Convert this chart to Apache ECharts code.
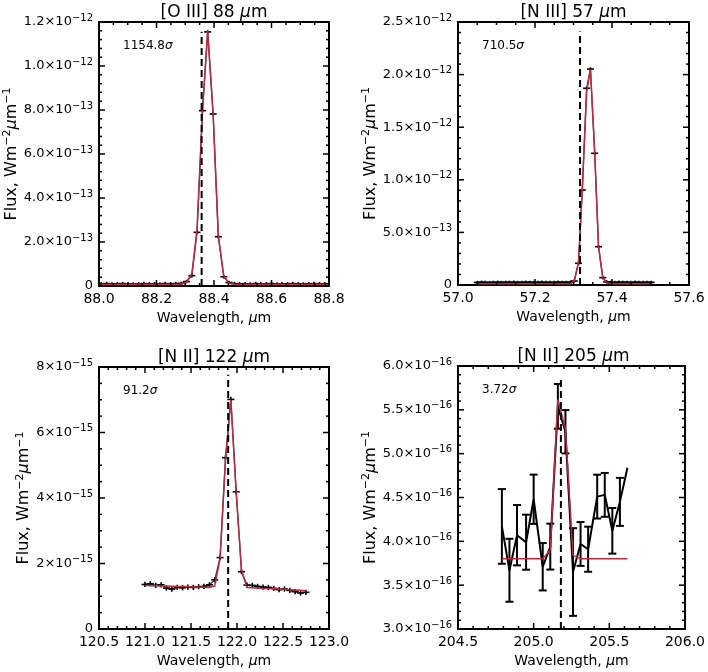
<!DOCTYPE html>
<html><head><meta charset="utf-8">
<script src="https://cdn.jsdelivr.net/npm/echarts@6/dist/echarts.min.js"></script>
<style>html,body{margin:0;padding:0;background:#fff}#c{width:708px;height:672px}</style>
</head><body><div id="c"></div>
<script>
const panelTitles = ['[O III] 88 ', '[N III] 57 ', '[N II] 122 ', '[N II] 205 '];
const sigmaLabels = ['1154.8', '710.5', '91.2', '3.72'];
// Panel 1: [O III] 88 um (flux in 1e-12 W m^-2 um^-1)
const wave1 = [88.008,88.027,88.045,88.064,88.082,88.101,88.119,88.138,88.156,88.175,88.193,88.212,88.230,88.249,88.267,88.286,88.304,88.323,88.341,88.360,88.378,88.397,88.415,88.434,88.452,88.471,88.489,88.508,88.526,88.545,88.563,88.582,88.600,88.619,88.637,88.656,88.674,88.693,88.711,88.730,88.748,88.767,88.785];
const flux1 = [0.010,0.011,0.009,0.010,0.011,0.010,0.009,0.010,0.011,0.010,0.010,0.009,0.011,0.010,0.011,0.012,0.020,0.047,0.244,0.797,1.155,0.782,0.224,0.042,0.016,0.011,0.010,0.010,0.009,0.011,0.010,0.010,0.011,0.009,0.010,0.010,0.011,0.010,0.009,0.010,0.011,0.010,0.010];
const fit1 = [0.008,0.008,0.008,0.008,0.008,0.008,0.008,0.008,0.008,0.008,0.008,0.008,0.008,0.008,0.008,0.008,0.018,0.055,0.260,0.800,1.160,0.780,0.230,0.045,0.014,0.008,0.008,0.008,0.008,0.008,0.008,0.008,0.008,0.008,0.008,0.008,0.008,0.008,0.008,0.008,0.008,0.008,0.008];
const err1 = 0.008;
const lineCenter1 = 88.357, lineTop1 = 1.156;
const xTicks1 = ['88.0','88.2','88.4','88.6','88.8'];
const yTicks1 = [['0',''],['2.0','\u221213'],['4.0','\u221213'],['6.0','\u221213'],['8.0','\u221213'],['1.0','\u221212'],['1.2','\u221212']];
// Panel 2: [N III] 57 um (flux in 1e-12)
const wave2 = [57.050,57.061,57.071,57.082,57.092,57.103,57.113,57.124,57.134,57.145,57.155,57.166,57.176,57.187,57.197,57.208,57.218,57.229,57.239,57.250,57.260,57.271,57.281,57.292,57.302,57.313,57.323,57.334,57.344,57.355,57.365,57.376,57.386,57.397,57.407,57.418,57.428,57.439,57.449,57.460,57.470,57.481,57.491,57.502];
const flux2 = [0.024,0.026,0.025,0.023,0.025,0.026,0.024,0.025,0.025,0.026,0.024,0.025,0.026,0.025,0.024,0.025,0.026,0.025,0.024,0.025,0.026,0.025,0.025,0.027,0.038,0.206,0.903,1.870,2.053,1.252,0.364,0.070,0.030,0.025,0.024,0.026,0.025,0.025,0.024,0.026,0.025,0.024,0.025,0.025];
const fit2 = [0.012,0.012,0.012,0.012,0.012,0.012,0.012,0.012,0.012,0.012,0.012,0.012,0.012,0.012,0.012,0.012,0.012,0.012,0.012,0.012,0.012,0.012,0.012,0.012,0.040,0.220,0.930,1.830,2.050,1.270,0.370,0.070,0.020,0.012,0.012,0.012,0.012,0.012,0.012,0.012,0.012,0.012,0.012,0.012];
const err2 = 0.016;
const lineCenter2 = 57.317, lineTop2 = 2.41;
const xTicks2 = ['57.0','57.2','57.4','57.6'];
const yTicks2 = [['0',''],['5.0','\u221213'],['1.0','\u221212'],['1.5','\u221212'],['2.0','\u221212'],['2.5','\u221212']];
// Panel 3: [N II] 122 um (flux in 1e-15)
const wave3 = [121.000,121.058,121.117,121.175,121.233,121.292,121.350,121.408,121.466,121.525,121.583,121.641,121.700,121.758,121.816,121.875,121.933,121.991,122.049,122.108,122.166,122.224,122.283,122.341,122.399,122.458,122.516,122.574,122.632,122.691,122.749];
const flux3 = [1.36,1.38,1.33,1.35,1.25,1.22,1.27,1.26,1.28,1.27,1.29,1.30,1.35,1.50,2.18,5.23,7.01,4.19,1.75,1.34,1.33,1.30,1.28,1.27,1.24,1.20,1.22,1.18,1.14,1.10,1.12];
const fit3 = [1.33,1.325,1.32,1.315,1.31,1.305,1.30,1.295,1.29,1.285,1.28,1.275,1.27,1.31,2.15,5.15,7.00,4.20,1.80,1.27,1.26,1.25,1.24,1.235,1.23,1.22,1.21,1.20,1.19,1.18,1.17];
const err3 = 0.08;
const lineCenter3 = 121.904, lineTop3 = 7.76;
const xTicks3 = ['120.5','121.0','121.5','122.0','122.5','123.0'];
const yTicks3 = [['0',''],['2','\u221215'],['4','\u221215'],['6','\u221215'],['8','\u221215']];
// Panel 4: [N II] 205 um (flux in 1e-16)
const wave4 = [204.79,204.84,204.89,204.95,205.00,205.06,205.11,205.16,205.21,205.26,205.31,205.36,205.42,205.47,205.52,205.57,205.62];
const flux4 = [4.17,3.67,4.07,3.99,4.48,3.71,3.94,5.54,5.25,3.65,3.97,3.91,4.51,4.53,4.12,4.45,4.84];
const errs4 = [0.426,0.359,0.344,0.314,0.281,0.27,0.262,0.255,0.247,0.50,0.25,0.257,0.25,0.25,0.26,0.274,0];
const fit4 = [3.80,3.80,3.80,3.80,3.80,3.80,3.90,5.62,5.28,3.84,3.80,3.80,3.80,3.80,3.80,3.80,3.80];
const lineCenter4 = 205.18, lineTop4 = 5.87;
const xTicks4 = ['204.5','205.0','205.5','206.0'];
const yTicks4 = [['3.0','\u221216'],['3.5','\u221216'],['4.0','\u221216'],['4.5','\u221216'],['5.0','\u221216'],['5.5','\u221216'],['6.0','\u221216']];

const FONT = 'DejaVu Sans';
const panels = [
  {grid:{left:99,top:22,width:230,height:264}, x:[88.0,88.8,0.2,4], y:[0,1.2,0.2,5], wave:wave1, flux:flux1, fit:fit1, err:wave1.map(()=>err1), lc:lineCenter1, lt:lineTop1, xt:xTicks1, yt:yTicks1, mode:'plus', dataColor:'#3a3a3a', dataW:1.3},
  {grid:{left:458,top:22,width:231,height:263}, x:[57.0,57.6,0.2,4], y:[0,2.5,0.5,5], wave:wave2, flux:flux2, fit:fit2, err:wave2.map(()=>err2), lc:lineCenter2, lt:lineTop2, xt:xTicks2, yt:yTicks2, mode:'plus', dataColor:'#3a3a3a', dataW:1.3},
  {grid:{left:99,top:367,width:230,height:262}, x:[120.5,123.0,0.5,5], y:[0,8,2,4], wave:wave3, flux:flux3, fit:fit3, err:wave3.map(()=>err3), lc:lineCenter3, lt:lineTop3, xt:xTicks3, yt:yTicks3, mode:'plus', dataColor:'#3a3a3a', dataW:1.3},
  {grid:{left:458,top:366,width:231,height:263}, x:[204.5,206.0,0.5,5], y:[3.0,6.0,0.5,5], wave:wave4, flux:flux4, fit:fit4, err:errs4, lc:lineCenter4, lt:lineTop4, xt:xTicks4, yt:yTicks4, mode:'I', dataColor:'#000', dataW:2}
];

const supRich = {
  m:{fontFamily:FONT,fontSize:13,color:'#000'},
  s:{fontFamily:FONT,fontSize:10,color:'#000',padding:[0,0,8,0]},
  nm:{fontFamily:FONT,fontSize:16,color:'#000'},
  ns:{fontFamily:FONT,fontSize:11,color:'#000',padding:[0,0,9,0]},
  ng:{fontFamily:FONT,fontSize:16,color:'#000',fontStyle:'italic'},
  xg:{fontFamily:FONT,fontSize:14,color:'#000',fontStyle:'italic'}
};

// tick positions along an axis: major at min + k*interval, minor subdivisions between
function tickList(a){
  const out=[]; const n=Math.round((a[1]-a[0])/a[2]);
  for(let k=0;k<=n;k++){
    out.push([a[0]+k*a[2], 1]);
    if(k<n) for(let m=1;m<a[3];m++) out.push([a[0]+k*a[2]+m*a[2]/a[3], 0.5]);
  }
  return out;
}

const grids=[], xAxes=[], yAxes=[], series=[], graphics=[];
panels.forEach((p,i)=>{
  grids.push(Object.assign({containLabel:false}, p.grid));
  const common = (a)=>({min:a[0], max:a[1], interval:a[2], splitLine:{show:false},
    axisLine:{show:true, onZero:false, lineStyle:{color:'#000', width:2}}, axisTick:{show:false}, minorTick:{show:false}, minorSplitLine:{show:false}});
  xAxes.push(Object.assign(common(p.x), {type:'value', gridIndex:i, position:'bottom',
    axisLabel:{show:true, margin:6, fontFamily:FONT, fontSize:14, color:'#000', formatter:(v,idx)=>p.xt[idx]},
    name:'Wavelength, {xg|\u03bc}m', nameLocation:'middle', nameGap:25,
    nameTextStyle:{fontFamily:FONT,fontSize:14,color:'#000',rich:supRich}}));
  xAxes.push(Object.assign(common(p.x), {type:'value', gridIndex:i, position:'top', axisLabel:{show:false}}));
  yAxes.push(Object.assign(common(p.y), {type:'value', gridIndex:i, position:'left',
    axisLabel:{show:true, margin:6, formatter:(v,idx)=>{const t=p.yt[idx]; if(!t) return ''; return t[1]? '{m|'+t[0]+'\u00d710}{s|'+t[1]+'}' : '{m|'+t[0]+'}';}, rich:supRich},
    name:'{nm|Flux, Wm}{ns|\u22122}{ng|\u03bc}{nm|m}{ns|\u22121}', nameLocation:'middle', nameRotate:90, nameGap:60,
    nameTextStyle:{rich:supRich}}));
  yAxes.push(Object.assign(common(p.y), {type:'value', gridIndex:i, position:'right', axisLabel:{show:false}}));

  const xi = 2*i, yi = 2*i;
  const tks = [];
  tickList(p.x).forEach(t=>tks.push([t[0], p.y[0], 0, t[1]]));
  tickList(p.y).forEach(t=>tks.push([p.x[0], t[0], 1, t[1]]));
  series.push({type:'custom', xAxisIndex:xi, yAxisIndex:yi, data:tks, z:10, animation:false, clip:false,
    renderItem:function(params, api){
      const st={stroke:'#000', lineWidth:1.5, fill:null};
      const len=6*Number(api.value(3));
      if(Number(api.value(2))<0.5){
        const v=api.value(0); const b=api.coord([v,p.y[0]]), t=api.coord([v,p.y[1]]);
        return {type:'group', children:[
          {type:'line', shape:{x1:b[0],y1:b[1],x2:b[0],y2:b[1]-len}, style:st},
          {type:'line', shape:{x1:t[0],y1:t[1],x2:t[0],y2:t[1]+len}, style:st}]};
      } else {
        const v=api.value(1); const l=api.coord([p.x[0],v]), r=api.coord([p.x[1],v]);
        return {type:'group', children:[
          {type:'line', shape:{x1:l[0],y1:l[1],x2:l[0]+len,y2:l[1]}, style:st},
          {type:'line', shape:{x1:r[0],y1:r[1],x2:r[0]-len,y2:r[1]}, style:st}]};
      }
    }});
  series.push({type:'line', xAxisIndex:xi, yAxisIndex:yi, data:p.wave.map((w,k)=>[w,p.flux[k]]), showSymbol:false, symbol:'none',
    lineStyle:{color:p.dataColor, width:p.dataW}, z:2, animation:false});
  series.push({type:'custom', xAxisIndex:xi, yAxisIndex:yi, data:p.wave.map((w,k)=>[w,p.flux[k],p.err[k]]), z:3, animation:false,
    renderItem:(params, api)=>{
      const x=api.value(0), y=api.value(1), e=api.value(2);
      const c=api.coord([x,y]), lo=api.coord([x,y-e]), hi=api.coord([x,y+e]);
      const hw = p.mode==='I'?4:3.5;
      const st = {stroke:'#000', lineWidth:p.mode==='I'?2:1.6};
      const ch=[{type:'line', shape:{x1:c[0],y1:lo[1],x2:c[0],y2:hi[1]}, style:st}];
      if(p.mode==='I'){
        if(e>0){
          ch.push({type:'line', shape:{x1:c[0]-hw,y1:lo[1],x2:c[0]+hw,y2:lo[1]}, style:st});
          ch.push({type:'line', shape:{x1:c[0]-hw,y1:hi[1],x2:c[0]+hw,y2:hi[1]}, style:st});
        }
      } else {
        ch.push({type:'line', shape:{x1:c[0]-hw,y1:c[1],x2:c[0]+hw,y2:c[1]}, style:st});
      }
      return {type:'group', children:ch};
    }});
  series.push({type:'line', xAxisIndex:xi, yAxisIndex:yi, data:p.wave.map((w,k)=>[w,p.fit[k]]), showSymbol:false, symbol:'none',
    lineStyle:{color:'#c0283f', width:1.5}, z:4, animation:false});
  series.push({type:'line', xAxisIndex:xi, yAxisIndex:yi, data:[[p.lc,p.y[0]],[p.lc,p.lt]], showSymbol:false, symbol:'none',
    lineStyle:{color:'#000', width:2, type:[7,4]}, z:5, animation:false});

  const cx = p.grid.left + p.grid.width/2;
  graphics.push({type:'text', x:cx, y:p.grid.top-9, style:{text:panelTitles[i]+'{g|\u03bc}m', fontFamily:FONT, fontSize:17, fill:'#000',
    align:'center', verticalAlign:'middle', textAlign:'center', textVerticalAlign:'middle',
    rich:{g:{fontFamily:FONT,fontSize:17,fontStyle:'italic',fill:'#000'}}}});
  graphics.push({type:'text', x:p.grid.left+24, y:p.grid.top+24, style:{text:sigmaLabels[i]+'{g|\u03c3}', fontFamily:FONT, fontSize:12, fill:'#000',
    align:'left', verticalAlign:'middle', textAlign:'left', textVerticalAlign:'middle',
    rich:{g:{fontFamily:FONT,fontSize:12,fontStyle:'italic',fill:'#000'}}}});
});

const chart = echarts.init(document.getElementById('c'), null, {renderer:'canvas'});
chart.setOption({animation:false, backgroundColor:'#fff', grid:grids, xAxis:xAxes, yAxis:yAxes, series:series, graphic:graphics});
</script></body></html>
